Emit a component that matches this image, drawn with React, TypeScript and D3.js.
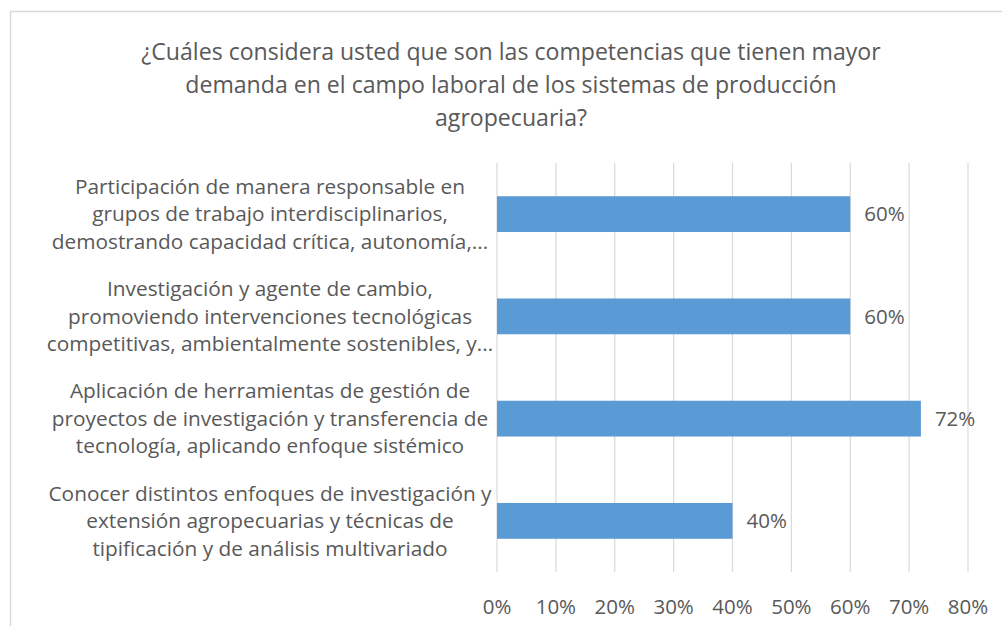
import React, { useEffect } from 'react';
import * as d3 from 'd3';

const titleLines = [
  '¿Cuáles considera usted que son las competencias que tienen mayor',
  'demanda en el campo laboral de los sistemas de producción',
  'agropecuaria?',
];

const categories = [
  ['Participación de manera responsable en', 'grupos de trabajo interdisciplinarios,', 'demostrando capacidad crítica, autonomía,...'],
  ['Investigación y agente de cambio,', 'promoviendo intervenciones tecnológicas', 'competitivas, ambientalmente sostenibles, y...'],
  ['Aplicación de herramientas de gestión de', 'proyectos de investigación y transferencia de', 'tecnología, aplicando enfoque sistémico'],
  ['Conocer distintos enfoques de investigación y', 'extensión agropecuarias y técnicas de', 'tipificación y de análisis multivariado'],
];

const values = [0.6, 0.6, 0.72, 0.4];

const ticks = [0, 0.1, 0.2, 0.3, 0.4, 0.5, 0.6, 0.7, 0.8];

const W = 1002;
const H = 626;
const FONT = '"Open Sans", Lato, sans-serif';
const TEXT = '#595959';

const App = () => {
  useEffect(() => {
    document.body.style.margin = '0';
  }, []);

  const keys = categories.map((c, i) => String(i));
  const x = d3.scaleLinear().domain([0, 0.8]).range([497, 968]);
  const y = d3.scaleBand().domain(keys).range([163, 572]).paddingInner(0.65).paddingOuter(0.325);
  const pct = d3.format('.0%');
  const labelX = 270;
  const lineGap = 27.5;

  return (
    <svg width={W} height={H} style={{ display: 'block', background: '#fff' }} fontFamily={FONT}>
      <rect x={10.5} y={11.5} width={W + 20} height={H + 20} fill="#fff" stroke="#d9d9d9" strokeWidth={1.5} />

      {titleLines.map((t, i) => (
        <text key={i} x={511} y={52 + i * 33} dy="0.35em" textAnchor="middle" fontSize={23.1} fill={TEXT}>
          {t}
        </text>
      ))}

      {ticks.map((t) => (
        <line key={t} x1={x(t)} x2={x(t)} y1={163} y2={572} stroke="#d9d9d9" strokeWidth={1.2} />
      ))}

      {values.map((v, i) => (
        <g key={i}>
          <rect x={x(0)} y={y(keys[i])} width={x(v) - x(0)} height={y.bandwidth()} fill="#5b9bd5" />
          <text x={x(v) + 14} y={(y(keys[i]) as number) + y.bandwidth() / 2} dy="0.35em" fontSize={20.5} fill={TEXT}>
            {pct(v)}
          </text>
        </g>
      ))}

      {categories.map((lines, i) => {
        const cy = (y(keys[i]) as number) + y.bandwidth() / 2;
        return lines.map((l, j) => (
          <text key={i + '-' + j} x={labelX} y={cy + (j - 1) * lineGap} dy="0.35em" textAnchor="middle" fontSize={20.8} fill={TEXT}>
            {l}
          </text>
        ));
      })}

      {ticks.map((t) => (
        <text key={'t' + t} x={x(t)} y={607} dy="0.35em" textAnchor="middle" fontSize={20.5} fill={TEXT}>
          {pct(t)}
        </text>
      ))}
    </svg>
  );
};

export default App;
